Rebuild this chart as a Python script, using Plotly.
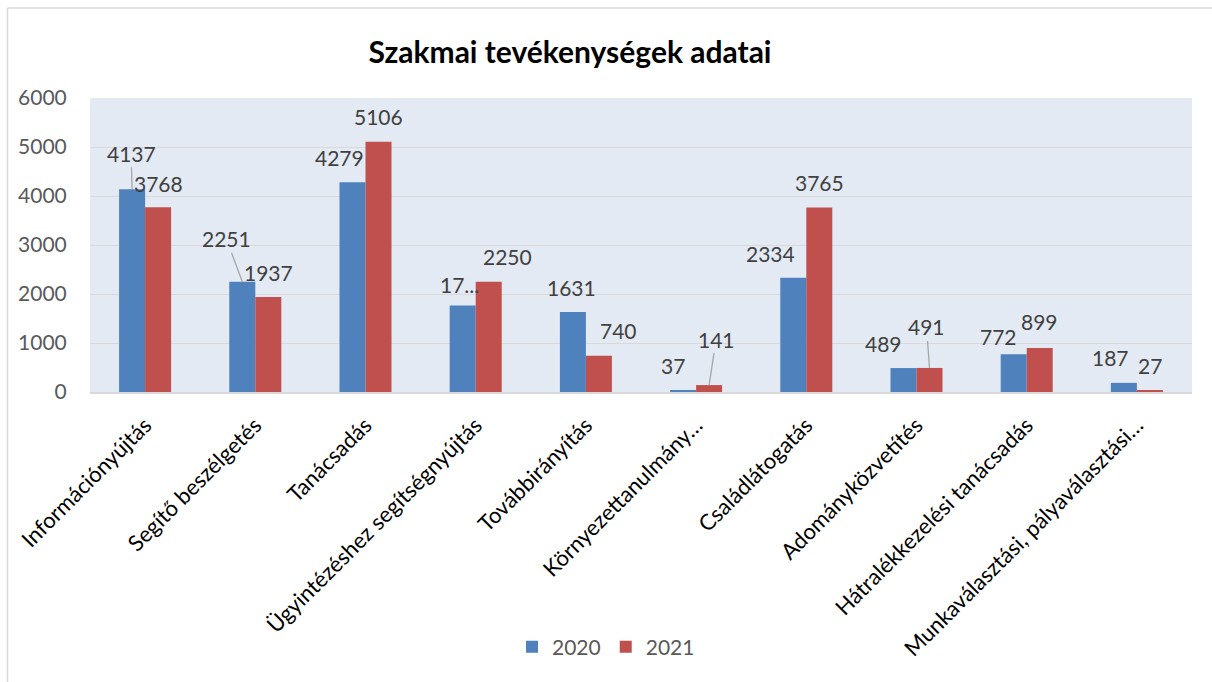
import plotly.graph_objects as go

# ---------------- data ----------------
categories = [
    "Információnyújtás",
    "Segítő beszélgetés",
    "Tanácsadás",
    "Ügyintézéshez segítségnyújtás",
    "Továbbirányítás",
    "Környezettanulmány…",
    "Családlátogatás",
    "Adományközvetítés",
    "Hátralékkezelési tanácsadás",
    "Munkaválasztási, pályaválasztási…",
]
values_2020 = [4137, 2251, 4279, 1763, 1631, 37, 2334, 489, 772, 187]
values_2021 = [3768, 1937, 5106, 2250, 740, 141, 3765, 491, 899, 27]
series_names = ["2020", "2021"]
y_tick_values = [0, 1000, 2000, 3000, 4000, 5000, 6000]
title_text = "Szakmai tevékenységek adatai"

# label text overrides (as shown, truncated, in the original)
label_text_override = {("2020", 3): "17..."}

# ---------------- style / layout ----------------
W, H = 1212, 682
ML, MR, MT, MB = 90, 20, 98, 290
PLOT_W = W - ML - MR
PLOT_H = H - MT - MB
BARGAP = 0.528
COL = {"2020": "#4F81BD", "2021": "#C0504D"}
FONT = "Lato, 'Open Sans', sans-serif"
GRID = "#D9D9D9"

# per-label nudges (dx, dy in px from bar top centre) and leader lines
DEFAULT_NUDGE = (0, -25)
label_nudge = {
    ("2020", 0): (-1, -36), ("2020", 1): (-16, -43), ("2020", 2): (-13, -25),
    ("2020", 3): (-3, -21), ("2020", 4): (-1, -25), ("2020", 5): (-10, -25),
    ("2020", 6): (-23, -24), ("2020", 7): (-20, -25), ("2020", 8): (-15, -18),
    ("2020", 9): (-13, -25),
    ("2021", 0): (0, -24), ("2021", 3): (19, -25), ("2021", 4): (20, -25),
    ("2021", 5): (7, -46), ("2021", 7): (-3, -41), ("2021", 8): (0, -26),
}
leader_lines = {("2020", 0), ("2020", 1), ("2021", 5), ("2021", 7)}

def px_to_paper_x(px):
    return (px - ML) / PLOT_W

def px_to_paper_y(py):
    return (H - MB - py) / PLOT_H

fig = go.Figure()
for name, vals in zip(series_names, [values_2020, values_2021]):
    fig.add_trace(go.Bar(
        name=name, x=categories, y=vals,
        marker=dict(color=COL[name], line=dict(width=0)),
        hoverinfo="x+y",
    ))

# data labels
cat_w = PLOT_W / len(categories)
bar_w = cat_w * (1 - BARGAP) / 2
annotations = []
for si, (name, vals) in enumerate(zip(series_names, [values_2020, values_2021])):
    offset = (-0.5 if si == 0 else 0.5) * bar_w
    for i, (cat, v) in enumerate(zip(categories, vals)):
        dx, dy = label_nudge.get((name, i), DEFAULT_NUDGE)
        txt = label_text_override.get((name, i), str(v))
        base = dict(x=cat, y=v, xref="x", yref="y", text=txt,
                    font=dict(family=FONT, size=21, color="#404040"))
        if (name, i) in leader_lines:
            annotations.append(dict(**base, showarrow=True, arrowhead=0,
                                    arrowwidth=1.3, arrowcolor="#A6A6A6",
                                    ax=dx, ay=dy, xshift=offset, standoff=0,
                                    xanchor="center", yanchor="middle"))
        else:
            annotations.append(dict(**base, showarrow=False,
                                    xshift=offset + dx, yshift=-dy,
                                    xanchor="center", yanchor="middle"))

# outer chart border (top & left visible)
shapes = [
    dict(type="line", xref="paper", yref="paper",
         x0=px_to_paper_x(7.5), x1=px_to_paper_x(W + 5),
         y0=px_to_paper_y(8), y1=px_to_paper_y(8),
         line=dict(color=GRID, width=1.5)),
    dict(type="line", xref="paper", yref="paper",
         x0=px_to_paper_x(7.5), x1=px_to_paper_x(7.5),
         y0=px_to_paper_y(8), y1=px_to_paper_y(H + 5),
         line=dict(color=GRID, width=1.5)),
]

fig.update_layout(
    template="none",
    width=W, height=H,
    margin=dict(l=ML, r=MR, t=MT, b=MB, autoexpand=False),
    paper_bgcolor="white",
    plot_bgcolor="#E3EAF4",
    barmode="group", bargap=BARGAP, bargroupgap=0,
    title=dict(text=title_text, x=570 / W, xanchor="center", xref="container",
               y=1 - 52 / H, yanchor="middle",
               font=dict(family=FONT, size=30, color="black", weight="bold")),
    font=dict(family=FONT),
    showlegend=True,
    legend=dict(orientation="h", x=px_to_paper_x(606), xanchor="center",
                y=px_to_paper_y(647), yanchor="middle",
                font=dict(family=FONT, size=21, color="#595959"),
                bgcolor="rgba(0,0,0,0)"),
    annotations=annotations,
    shapes=shapes,
)
fig.update_xaxes(
    type="category", tickangle=-45, showgrid=False,
    showline=True, linecolor=GRID, linewidth=1.5,
    ticks="outside", ticklen=10, tickcolor="rgba(0,0,0,0)", automargin=False,
    tickfont=dict(family=FONT, size=22, color="black"),
)
fig.update_yaxes(
    range=[0, 6000], tickvals=y_tick_values, showgrid=True,
    gridcolor=GRID, gridwidth=1.3, zeroline=False, showline=False,
    ticks="outside", ticklen=18, tickcolor="rgba(0,0,0,0)", automargin=False,
    tickfont=dict(family=FONT, size=21, color="#595959"),
)

fig.write_html(
    "out.html",
    config={"displayModeBar": False},
    post_script="document.body.style.margin='0';document.body.style.overflow='hidden';",
)
